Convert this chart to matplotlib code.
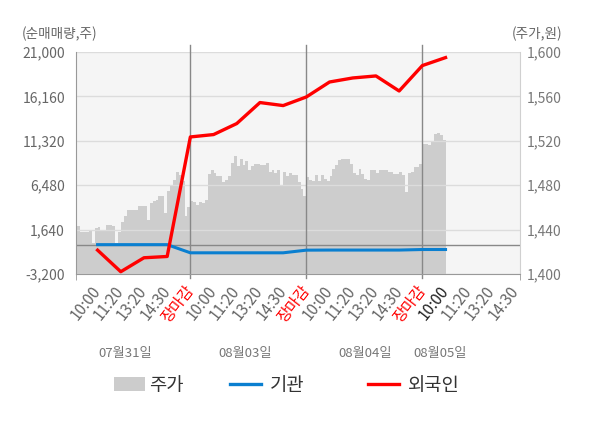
import matplotlib.pyplot as plt
from matplotlib.patches import Patch
from matplotlib.lines import Line2D
import numpy as np

plt.rcParams['font.family'] = ['Noto Sans CJK KR', 'DejaVu Sans']

# x axis: 5 slots per trading day, ticks at every slot
tick_labels = ['10:00', '11:20', '13:20', '14:30', '장마감'] * 3 + ['10:00', '11:20', '13:20', '14:30']
dates = ['07월31일', '08월03일', '08월04일', '08월05일']

# price (원), 8 samples per slot
price = [1443, 1443, 1438, 1438, 1438, 1440, 1428, 1441, 1442, 1440,
         1440, 1444, 1444, 1443, 1428, 1438, 1447, 1452, 1458, 1458,
         1458, 1458, 1461, 1461, 1461, 1449, 1464, 1466, 1467, 1470,
         1470, 1455, 1475, 1480, 1485, 1492, 1489, 1484, 1452, 1460,
         1466, 1465, 1462, 1465, 1464, 1467, 1490, 1494, 1491, 1488,
         1488, 1483, 1485, 1488, 1500, 1506, 1497, 1504, 1498, 1502,
         1494, 1497, 1499, 1499, 1498, 1498, 1500, 1492, 1494, 1491,
         1494, 1480, 1492, 1488, 1491, 1489, 1489, 1483, 1477, 1470,
         1487, 1485, 1484, 1489, 1484, 1489, 1486, 1484, 1488, 1495,
         1498, 1503, 1504, 1504, 1504, 1499, 1491, 1489, 1495, 1490,
         1486, 1485, 1494, 1494, 1491, 1494, 1494, 1494, 1492, 1492,
         1490, 1490, 1492, 1489, 1474, 1491, 1492, 1496, 1496, 1499,
         1517, 1517, 1516, 1519, 1526, 1527, 1525, 1521, 1521]

# 순매매량 (주), one value per slot starting at 10:00 of day 1
foreign = [-600, -2950, -1430, -1290, 11740, 12000, 13200, 15490, 15160, 16100,
           17730, 18170, 18390, 16750, 19520, 20390]
inst = [0, 0, 0, 0, -890, -890, -890, -890, -890, -600,
        -590, -590, -590, -590, -530, -530]

left_ticks = [-3200, 1640, 6480, 11320, 16160, 21000]
right_ticks = [1400, 1440, 1480, 1520, 1560, 1600]

fig = plt.figure(figsize=(6, 4.28), dpi=100)
ax = fig.add_axes([76/600, 1-274/428, 444/600, 222/428])
ax2 = ax.twinx()

# price area on the base axes (drawn below the lines)
ax.set_facecolor('#f5f5f5')
px = np.arange(len(price)) / 8
ax.fill_between(px, price, 1400, step='post', color='#cdcdcd', lw=0, zorder=1)
ax.set_ylim(1400, 1600)
ax.yaxis.tick_right()
ax.set_yticks(right_ticks)
ax.set_yticklabels(['{:,}'.format(v) for v in right_ticks])
ax.grid(axis='y', color='#dcdcdc', lw=1)
ax.set_axisbelow(False)
for s in ax.spines.values():
    s.set_visible(False)
ax.tick_params(axis='y', length=0, pad=5, labelsize=10, labelcolor='#777')

for d in [5, 10, 15]:
    ax.axvline(d, ymin=-0.016, ymax=1.032, color='#888888', lw=1, clip_on=False, zorder=3)

ax.set_xlim(0.07, 19.21)
ax.set_xticks(range(1, len(tick_labels) + 1))
ax.set_xticklabels(tick_labels)
ax.set_xticks([0.07, 5, 10, 15, 19.21], minor=True)
ax.tick_params(axis='x', which='major', length=0, pad=10, labelsize=11, labelcolor='#666')
ax.tick_params(axis='x', which='minor', length=4, color='#999999')
for i, lab in enumerate(ax.get_xticklabels()):
    lab.set_rotation(52)
    lab.set_ha('right')
    lab.set_va('center')
    lab.set_rotation_mode('anchor')
    if lab.get_text() == '장마감':
        lab.set_color('red')
    elif i == 15:
        lab.set_color('#222222')

# net buying lines
xs = np.arange(1, len(foreign) + 1)
ax2.axhline(0, color='#888888', lw=1, zorder=1)
ax2.plot(xs, inst, color='#0a7fd0', lw=2.2, zorder=3)
ax2.plot(xs, foreign, color='#ff0000', lw=2.4, zorder=4)
ax2.set_ylim(-3200, 21000)
ax2.yaxis.tick_left()
ax2.set_yticks(left_ticks)
ax2.set_yticklabels(['{:,}'.format(v) for v in left_ticks])
ax2.tick_params(axis='y', length=0, pad=8, labelsize=10, labelcolor='#666')
ax2.spines['top'].set_visible(False)
ax2.spines['left'].set_color('#999999')
ax2.spines['bottom'].set_color('#999999')
ax2.spines['right'].set_color('#d0d0d0')

fig.text(22/600, 1-34/428, '(순매매량,주)', ha='left', va='center', fontsize=9.8, color='#666')
fig.text(562/600, 1-34/428, '(주가,원)', ha='right', va='center', fontsize=9.8, color='#666')

for x, d in zip([2.19, 7.36, 12.54, 15.78], dates):
    ax.text(x, -0.356, d, transform=ax.get_xaxis_transform(), ha='center', va='center',
            fontsize=9.5, color='#777')

leg_kw = dict(loc='center left', frameon=False, fontsize=13.5, borderpad=0,
              borderaxespad=0, handlelength=1.65, labelcolor='#333')
fig.legend(handles=[Patch(facecolor='#cccccc', edgecolor='none', label='주가')],
           bbox_to_anchor=(114/600, 1-385/428), handleheight=0.75, handletextpad=0.2, **leg_kw)
fig.legend(handles=[Line2D([], [], color='#0a7fd0', lw=2.4, label='기관')],
           bbox_to_anchor=(230/600, 1-385/428), handletextpad=0.45, **leg_kw)
fig.legend(handles=[Line2D([], [], color='#ff0000', lw=2.4, label='외국인')],
           bbox_to_anchor=(368/600, 1-385/428), handletextpad=0.5, **leg_kw)

plt.savefig('out.png', dpi=100)
